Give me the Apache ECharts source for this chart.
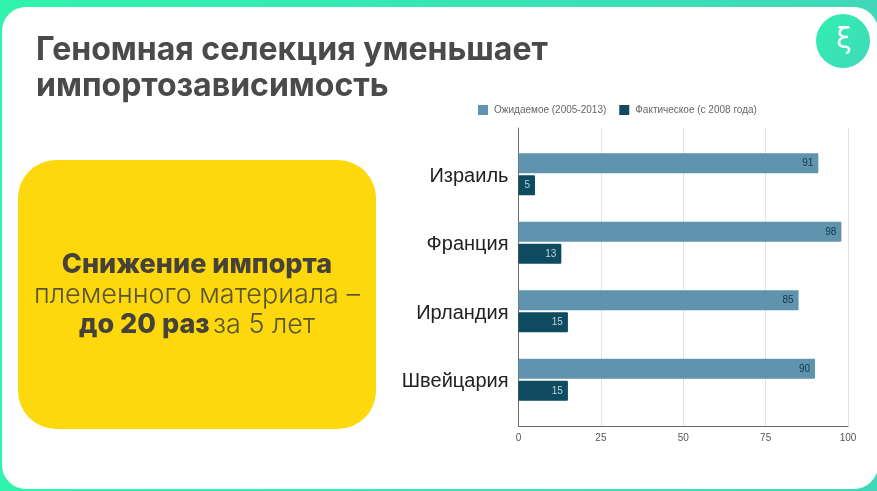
<!DOCTYPE html>
<html lang="ru">
<head>
<meta charset="utf-8">
<style>html,body{margin:0;padding:0;background:#fff}#chart{width:877px;height:491px}</style>
<script src="https://cdn.jsdelivr.net/npm/echarts@6/dist/echarts.min.js"></script>
</head>
<body>
<div id="chart"></div>
<script>
const countries = ['Израиль', 'Франция', 'Ирландия', 'Швейцария'];
const expectedShare = [91, 98, 85, 90];
const actualShare = [5, 13, 15, 15];
const seriesNames = ['Ожидаемое (2005-2013)', 'Фактическое (с 2008 года)'];
const titleLines = ['Геномная селекция уменьшает', 'импортозависимость'];

const chart = echarts.init(document.getElementById('chart'), null, { renderer: 'canvas' });
const headFont = 'Inter, "Noto Sans", sans-serif';
const plainFont = '"Liberation Sans", Arial, sans-serif';

chart.setOption({
  animation: false,
  backgroundColor: 'transparent',
  legend: {
    left: 473, top: 100, itemWidth: 10, itemHeight: 10, itemGap: 13,
    icon: 'rect',
    data: seriesNames,
    textStyle: { fontFamily: plainFont, fontSize: 10, color: '#666', padding: [0, 0, 0, 1] }
  },
  // Frame grid carries the axis lines and the value scale; bars sit in the inner grid.
  grid: [
    { left: 518.5, right: 29, top: 128, bottom: 65 },
    { left: 518.5, right: 29, top: 140, bottom: 77 }
  ],
  xAxis: [
    {
      gridIndex: 0, type: 'value', min: 0, max: 100, interval: 25,
      axisLine: { show: true, lineStyle: { color: '#6a6a6a', width: 1 } },
      axisTick: { show: false },
      axisLabel: { fontFamily: plainFont, fontSize: 10, color: '#555', margin: 7 },
      splitLine: { show: true, lineStyle: { color: '#e2e2e2', width: 1 } }
    },
    { gridIndex: 1, type: 'value', min: 0, max: 100, show: false }
  ],
  yAxis: [
    {
      gridIndex: 0, type: 'value', min: 0, max: 1,
      axisLine: { show: true, lineStyle: { color: '#6a6a6a', width: 1 } },
      axisTick: { show: false }, axisLabel: { show: false }, splitLine: { show: false }
    },
    {
      gridIndex: 1, type: 'category', inverse: true, data: countries,
      axisLine: { show: false }, axisTick: { show: false },
      // A short line box hung from the tick sets the names just below the bar pair's centre.
      axisLabel: { fontFamily: plainFont, fontSize: 20, color: '#222', margin: 10, verticalAlign: 'top', lineHeight: 4 }
    }
  ],
  series: [
    {
      name: seriesNames[0], type: 'bar', xAxisIndex: 1, yAxisIndex: 1,
      data: expectedShare, barWidth: 20, barGap: '10%',
      itemStyle: { color: '#6093ad', borderRadius: 1 },
      label: { show: true, position: 'insideRight', distance: 5, fontFamily: plainFont, fontSize: 10, color: '#12384a' }
    },
    {
      name: seriesNames[1], type: 'bar', xAxisIndex: 1, yAxisIndex: 1,
      data: actualShare, barWidth: 20,
      itemStyle: { color: '#0e4a60', borderRadius: 1 },
      label: { show: true, position: 'insideRight', distance: 5, fontFamily: plainFont, fontSize: 10, color: '#b9d6e0' }
    }
  ],
  color: ['#6093ad', '#0e4a60'],
  graphic: [
    {
      type: 'rect', z: -10, silent: true,
      shape: { x: 0, y: 0, width: 877, height: 491 },
      style: {
        fill: new echarts.graphic.LinearGradient(0, 0, 1, 0, [
          { offset: 0, color: '#30f3ae' }, { offset: 1, color: '#3fd8b8' }
        ])
      }
    },
    {
      type: 'rect', z: -9, silent: true,
      shape: { x: 2, y: 7, width: 876, height: 482, r: 24 },
      style: { fill: '#ffffff' }
    },
    {
      type: 'circle', z: -8, silent: true,
      shape: { cx: 843, cy: 41, r: 27 },
      style: {
        fill: new echarts.graphic.LinearGradient(0, 0, 1, 1, [
          { offset: 0, color: '#30efae' }, { offset: 1, color: '#40d9bb' }
        ])
      }
    },
    {
      type: 'text', z: -7, silent: true, x: 844, y: 41,
      style: { text: 'ξ', fill: '#ffffff', font: '28px "DejaVu Sans"', align: 'center', verticalAlign: 'middle' }
    },
    {
      type: 'text', z: 1, silent: true, x: 36, y: 50,
      style: { text: titleLines[0], fill: '#4a4a4a', font: '700 32px ' + headFont, verticalAlign: 'middle' }
    },
    {
      type: 'text', z: 1, silent: true, x: 36, y: 86,
      style: { text: titleLines[1], fill: '#4a4a4a', font: '700 32px ' + headFont, verticalAlign: 'middle' }
    },
    {
      type: 'rect', z: -6, silent: true,
      shape: { x: 18, y: 160, width: 358, height: 269, r: 38 },
      style: { fill: '#fcd80c' }
    },
    {
      type: 'text', z: 1, silent: true, x: 197, y: 265,
      style: { text: 'Снижение импорта', fill: '#46423a', font: '800 27px ' + headFont, align: 'center', verticalAlign: 'middle' }
    },
    {
      type: 'text', z: 1, silent: true, x: 197, y: 295,
      style: { text: 'племенного материала –', fill: '#5a5433', font: '300 27px ' + headFont, align: 'center', verticalAlign: 'middle' }
    },
    {
      type: 'text', z: 1, silent: true, x: 197, y: 325,
      style: {
        text: '{b|до 20 раз} {n|за 5 лет}',
        align: 'center', verticalAlign: 'middle',
        rich: {
          b: { font: '800 27px ' + headFont, fill: '#46423a', color: '#46423a' },
          n: { font: '300 27px ' + headFont, fill: '#5a5433', color: '#5a5433' }
        }
      }
    }
  ]
});
</script>
</body>
</html>
